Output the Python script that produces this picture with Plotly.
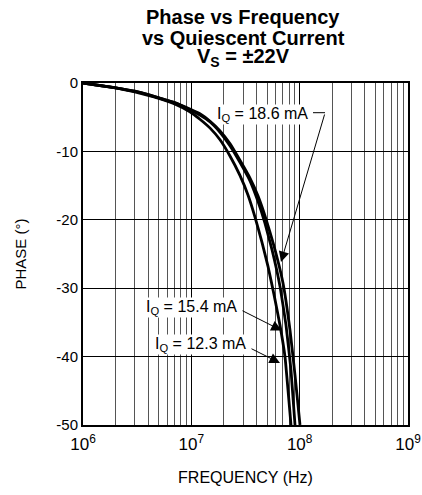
import numpy as np
import plotly.graph_objects as go

# ---- data ----
freq_186 = [1.0e6, 2.0e6, 3.0e6, 4.0e6, 5.1e6, 7.1e6, 9.7e6, 1.2e7, 1.49e7, 1.84e7,
            2.28e7, 2.81e7, 3.48e7, 4.12e7, 4.78e7, 5.79e7, 7.01e7, 8.14e7, 9.06e7, 1.007e8]
phase_186 = [0, -0.7, -1.2, -1.7, -2.2, -2.9, -3.8, -4.5, -5.6, -7.0,
             -8.9, -11.3, -13.9, -16.5, -19.4, -23.8, -29.2, -36.1, -42.7, -50.0]

freq_154 = [1.0e6, 2.0e6, 3.0e6, 4.0e6, 5.1e6, 7.1e6, 9.7e6, 1.2e7, 1.49e7, 1.84e7,
            2.28e7, 2.81e7, 3.48e7, 4.12e7, 4.78e7, 5.56e7, 6.58e7, 7.48e7, 8.32e7, 9.06e7]
phase_154 = [0, -0.7, -1.2, -1.7, -2.2, -2.9, -3.9, -4.7, -5.7, -7.2,
             -9.2, -11.6, -14.3, -17.3, -20.5, -24.4, -29.7, -35.4, -42.0, -50.0]

freq_123 = [1.0e6, 2.0e6, 3.0e6, 4.0e6, 5.1e6, 7.1e6, 9.7e6, 1.2e7, 1.49e7, 1.84e7,
            2.28e7, 2.81e7, 3.34e7, 3.87e7, 4.49e7, 5.1e7, 5.79e7, 6.58e7, 7.33e7, 8.32e7]
phase_123 = [0, -0.7, -1.3, -1.8, -2.3, -3.1, -4.2, -5.3, -6.6, -8.3,
             -10.7, -13.5, -16.4, -19.6, -23.3, -26.8, -30.9, -35.4, -40.1, -50.0]

x_tickvals = [1e6, 1e7, 1e8, 1e9]
x_ticktext = ["10<sup>6</sup>", "10<sup>7</sup>", "10<sup>8</sup>", "10<sup>9</sup>"]
y_tickvals = [0, -10, -20, -30, -40, -50]
y_ticktext = ["0", "-10", "-20", "-30", "-40", "-50"]

labels = ["I<sub>Q</sub> = 18.6 mA", "I<sub>Q</sub> = 15.4 mA", "I<sub>Q</sub> = 12.3 mA"]

FONT = "Liberation Sans, Arial, sans-serif"

fig = go.Figure()
for f, p in [(freq_186, phase_186), (freq_154, phase_154), (freq_123, phase_123)]:
    fig.add_trace(go.Scatter(x=f, y=p, mode="lines",
                             line=dict(color="black", width=2.8, shape="spline", smoothing=0.3),
                             showlegend=False, hoverinfo="skip"))

W, H = 422, 495
PL, PR, PT, PB = 83, 408, 83, 425
L, T, R, B = PL, PT, W - PR, H - PB
pw, ph = PR - PL, PB - PT

def px(xp):
    return (xp - PL) / pw

def py(yp):
    return (PB - yp) / ph

annotations = []
# title lines
title_lines = ["Phase vs Frequency", "vs Quiescent Current", "V<sub>S</sub> = ±22V"]
title_y = [17, 38, 58]
for t, yy in zip(title_lines, title_y):
    annotations.append(dict(text="<b>%s</b>" % t, xref="paper", yref="paper",
                            x=px(243), y=py(yy), showarrow=False,
                            xanchor="center", yanchor="middle",
                            font=dict(family=FONT, size=20, color="black")))

# curve labels
label_pos = [(262.5, 114), (191.7, 307), (200.8, 344)]
for t, (xx, yy) in zip(labels, label_pos):
    annotations.append(dict(text=t, xref="paper", yref="paper", x=px(xx), y=py(yy),
                            showarrow=False, xanchor="center", yanchor="middle",
                            bgcolor="white", borderpad=0,
                            font=dict(family=FONT, size=16, color="black")))

# arrows (tip, tail)
arrows = [((281, 262), (325, 113)), ((281.7, 330.5), (241, 310)), ((280, 363), (250, 348))]
for (tx, ty), (sx, sy) in arrows:
    annotations.append(dict(text="", xref="paper", yref="paper", x=px(tx), y=py(ty),
                            ax=sx - tx, ay=sy - ty, axref="pixel", ayref="pixel",
                            showarrow=True, arrowhead=2, arrowsize=2.1, arrowwidth=1,
                            arrowcolor="black", standoff=0))

shapes = [dict(type="line", xref="paper", yref="paper", x0=px(313), x1=px(325),
               y0=py(112.7), y1=py(112.7), line=dict(color="black", width=1))]

fig.update_layout(
    width=W, height=H,
    margin=dict(l=L, r=R, t=T, b=B, pad=0, autoexpand=False),
    plot_bgcolor="white", paper_bgcolor="white",
    annotations=annotations, shapes=shapes,
    font=dict(family=FONT, size=15, color="black"),
    xaxis=dict(type="log", range=[6, 9], tickvals=x_tickvals, ticktext=x_ticktext,
               automargin=False,
               showgrid=True, gridcolor="black", gridwidth=1,
               minor=dict(dtick="D1", showgrid=True, gridcolor="#555555", gridwidth=1, ticks=""),
               showline=True, linecolor="black", linewidth=2, mirror=True,
               ticks="", tickfont=dict(size=17), ticklabelstandoff=3,
               title=dict(text="FREQUENCY (Hz)", font=dict(size=16), standoff=18),
               zeroline=False),
    yaxis=dict(range=[-50, 0], tickvals=y_tickvals, ticktext=y_ticktext,
               automargin=False,
               showgrid=True, gridcolor="black", gridwidth=1,
               showline=True, linecolor="black", linewidth=2, mirror=True,
               ticks="", tickfont=dict(size=15),
               title=dict(text="PHASE (°)", font=dict(size=15), standoff=26),
               zeroline=False),
)

fig.write_html("out.html", config={"displayModeBar": False},
               post_script="document.body.style.margin='0px';document.body.style.overflow='hidden';")
